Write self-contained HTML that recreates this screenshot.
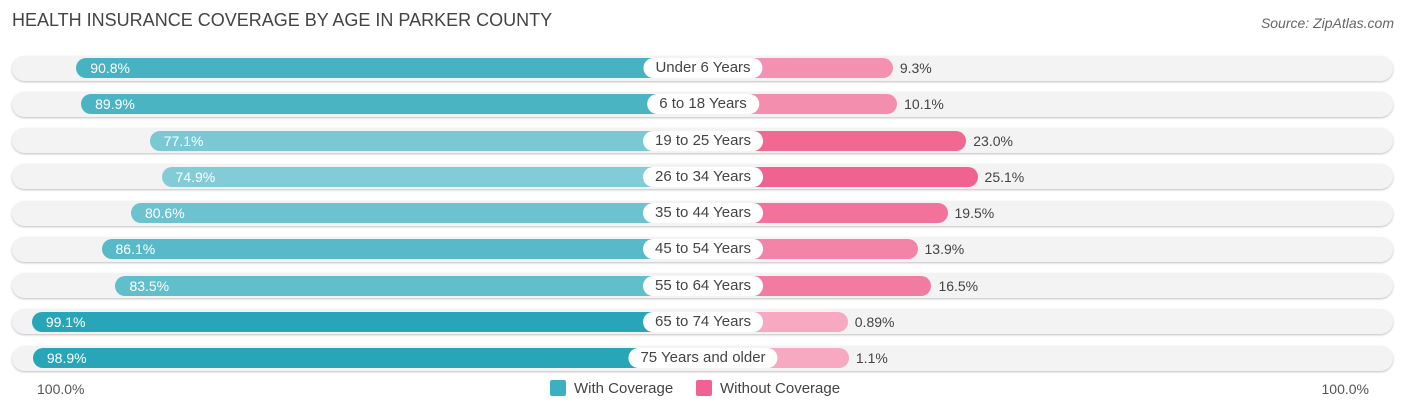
<!DOCTYPE html>
<html><head><meta charset="utf-8"><style>
body{margin:0;background:#fff;font-family:"Liberation Sans",sans-serif;}
#c{position:relative;width:1406px;height:414px;overflow:hidden;}
.t{position:absolute;left:12px;top:10px;font-size:18px;color:#444;}
.src{position:absolute;right:12px;top:15px;font-size:14px;color:#666;font-style:italic;}
.track{position:absolute;left:12px;width:1381px;height:25px;border-radius:13px;background:#f3f3f3;box-shadow:0 1px 2px rgba(0,0,0,.25);}
.bar{position:absolute;height:20px;border-radius:10px;}
.lab{position:absolute;height:20px;line-height:20px;padding:0 12px;background:#fff;border-radius:10px;font-size:15px;color:#444;transform:translateX(-50%);white-space:nowrap;}
.v{position:absolute;font-size:14px;line-height:20px;}
.ax{position:absolute;top:381px;font-size:14px;color:#555;}
.lg{position:absolute;top:380px;font-size:15px;color:#444;}
.sw{display:inline-block;width:16px;height:16px;vertical-align:-3px;margin-right:8px;border-radius:2px;}
</style></head><body>
<div id="c">
<div class="t">HEALTH INSURANCE COVERAGE BY AGE IN PARKER COUNTY</div>
<div class="src">Source: ZipAtlas.com</div>
<div id="rows"></div>
<div class="ax" style="left:37px">100.0%</div>
<div class="ax" style="right:37px">100.0%</div>
<div class="lg" style="left:550px"><span class="sw" style="background:#3bb0c0"></span>With Coverage</div>
<div class="lg" style="left:696px"><span class="sw" style="background:#f0628f"></span>Without Coverage</div>
</div>
<script>
const categories=["Under 6 Years","6 to 18 Years","19 to 25 Years","26 to 34 Years","35 to 44 Years","45 to 54 Years","55 to 64 Years","65 to 74 Years","75 Years and older"];
const withCov=[90.8,89.9,77.1,74.9,80.6,86.1,83.5,99.1,98.9];
const withoutCov=[9.3,10.1,23.0,25.1,19.5,13.9,16.5,0.89,1.1];
const withLabels=["90.8%","89.9%","77.1%","74.9%","80.6%","86.1%","83.5%","99.1%","98.9%"];
const withoutLabels=["9.3%","10.1%","23.0%","25.1%","19.5%","13.9%","16.5%","0.89%","1.1%"];
const CX=703,ZL=563,ZR=843,S=5.36;
const xL=v=>ZL-v*S, xR=v=>ZR+v*S, yRow=i=>68+i*36.25;
function mix(a,b,t){return 'rgb('+a.map((x,k)=>Math.round(x+(b[k]-x)*t)).join(',')+')';}
const root=document.getElementById('rows');
categories.forEach((c,i)=>{
 const y=yRow(i);
 const tr=document.createElement('div');tr.className='track';tr.style.top=(y-12.5)+'px';
 
 
 root.appendChild(tr);
 const b1=document.createElement('div');b1.className='bar';
 const l=xL(withCov[i]);b1.style.left=l+'px';b1.style.width=(CX-l)+'px';b1.style.top=(y-10)+'px';
 const t1=Math.max(0,Math.min(1,(withCov[i]-74)/25));
 b1.style.background=mix([132,205,215],[41,165,184],t1);
 
 
 root.appendChild(b1);
 const b2=document.createElement('div');b2.className='bar';
 const r=xR(withoutCov[i]);b2.style.left=(CX)+'px';b2.style.width=(r-CX)+'px';b2.style.top=(y-10)+'px';
 const t2=Math.max(0,Math.min(1,withoutCov[i]/25));
 b2.style.background=mix([247,172,196],[240,98,143],t2);
 
 
 root.appendChild(b2);
 const v1=document.createElement('div');v1.className='v';v1.textContent=withLabels[i];
 v1.style.left=(l+14)+'px';v1.style.top=(y-10)+'px';v1.style.color='#fff';
 
 
 root.appendChild(v1);
 const v2=document.createElement('div');v2.className='v';v2.textContent=withoutLabels[i];
 v2.style.left=(r+7)+'px';v2.style.top=(y-10)+'px';v2.style.color='#444';
 
 
 root.appendChild(v2);
 const lb=document.createElement('div');lb.className='lab';lb.textContent=c;
 lb.style.left=CX+'px';lb.style.top=(y-10)+'px';
 
 
 root.appendChild(lb);
});
</script>
</body></html>
